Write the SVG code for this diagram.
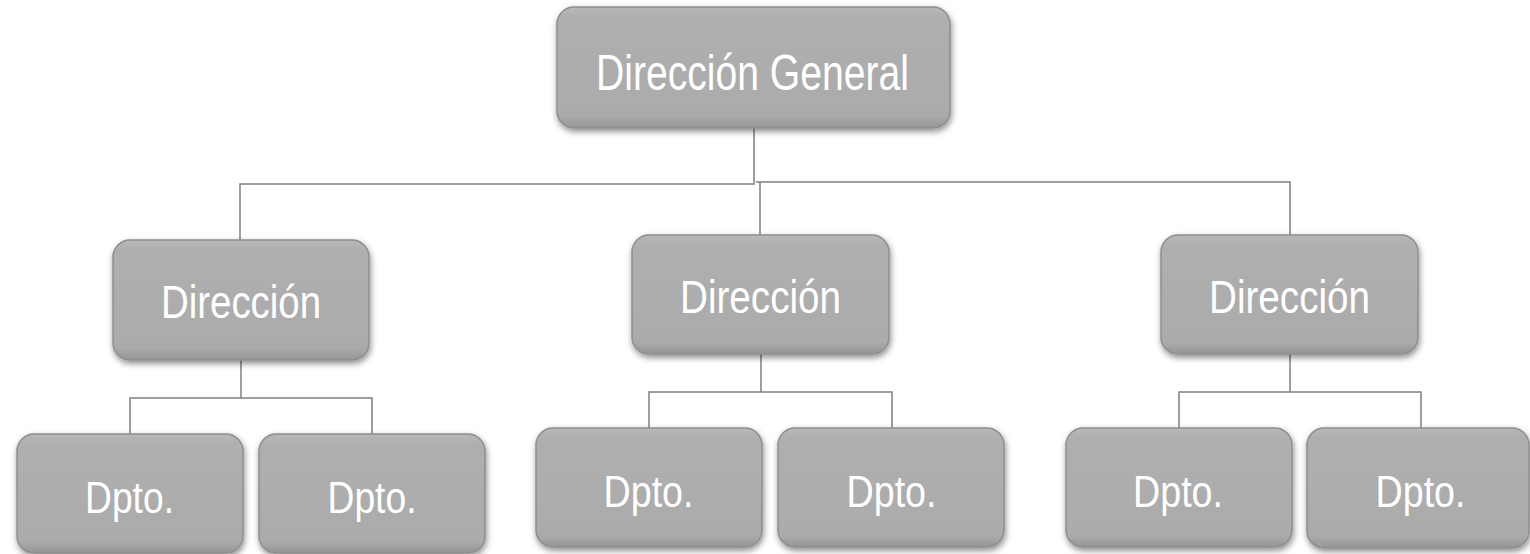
<svg xmlns="http://www.w3.org/2000/svg" width="1530" height="554" viewBox="0 0 1530 554">
<defs>
<linearGradient id="g" x1="0" y1="0" x2="0" y2="1">
<stop offset="0" stop-color="#b9b9b9"/>
<stop offset="0.08" stop-color="#afafaf"/>
<stop offset="0.9" stop-color="#ababab"/>
<stop offset="1" stop-color="#959595"/>
</linearGradient>
<filter id="sh" x="-10%" y="-10%" width="125%" height="130%">
<feDropShadow dx="1" dy="3" stdDeviation="3" flood-color="#000" flood-opacity="0.45"/>
</filter>
</defs>
<style>
.box{fill:url(#g);stroke:#8e8e8e;stroke-width:1.5;filter:url(#sh)}
.lbl{font-family:"Liberation Sans Narrow","Liberation Sans",Arial,sans-serif;fill:#ffffff;text-anchor:middle}
.big{font-size:50px}
.mid{font-size:46px}
.sm{font-size:45px}
.con{fill:none;stroke:#808080;stroke-width:1.5}
</style>
<rect width="1530" height="554" fill="#ffffff"/>
<g id="connectors">
<path class="con" d="M754,128 V184 H240 V240"/>
<path class="con" d="M756,182 H1290 V235 M760,182 V235"/>
<path class="con" d="M241,360 V398 M130,434 V398 H372 V434"/>
<path class="con" d="M761,354 V392 M649,428 V392 H892 V428"/>
<path class="con" d="M1290,354 V392 M1179,428 V392 H1421 V428"/>
</g>
<g id="n-general">
<rect class="box" x="557" y="7" width="393" height="121" rx="17"/>
<text class="lbl big" x="752.5" y="90" textLength="313" lengthAdjust="spacingAndGlyphs">Dirección General</text>
</g>
<g id="n-dir1">
<rect class="box" x="113" y="240" width="256" height="120" rx="17"/>
<text class="lbl mid" x="241" y="318" textLength="160" lengthAdjust="spacingAndGlyphs">Dirección</text>
</g>
<g id="n-dir2">
<rect class="box" x="632" y="235" width="257" height="119" rx="17"/>
<text class="lbl mid" x="760.5" y="313" textLength="161" lengthAdjust="spacingAndGlyphs">Dirección</text>
</g>
<g id="n-dir3">
<rect class="box" x="1161" y="235" width="257" height="119" rx="17"/>
<text class="lbl mid" x="1289.5" y="313" textLength="161" lengthAdjust="spacingAndGlyphs">Dirección</text>
</g>
<g id="n-dpto1">
<rect class="box" x="17" y="434" width="226" height="119" rx="17"/>
<text class="lbl sm" x="129.5" y="513" textLength="89" lengthAdjust="spacingAndGlyphs">Dpto.</text>
</g>
<g id="n-dpto2">
<rect class="box" x="259" y="434" width="226" height="119" rx="17"/>
<text class="lbl sm" x="372" y="513" textLength="89" lengthAdjust="spacingAndGlyphs">Dpto.</text>
</g>
<g id="n-dpto3">
<rect class="box" x="536" y="428" width="226" height="119" rx="17"/>
<text class="lbl sm" x="648.5" y="507" textLength="90" lengthAdjust="spacingAndGlyphs">Dpto.</text>
</g>
<g id="n-dpto4">
<rect class="box" x="778" y="428" width="226" height="119" rx="17"/>
<text class="lbl sm" x="891.5" y="507" textLength="90" lengthAdjust="spacingAndGlyphs">Dpto.</text>
</g>
<g id="n-dpto5">
<rect class="box" x="1066" y="428" width="226" height="119" rx="17"/>
<text class="lbl sm" x="1178" y="507" textLength="90" lengthAdjust="spacingAndGlyphs">Dpto.</text>
</g>
<g id="n-dpto6">
<rect class="box" x="1307" y="428" width="222" height="120" rx="17"/>
<text class="lbl sm" x="1420.5" y="507" textLength="90" lengthAdjust="spacingAndGlyphs">Dpto.</text>
</g>
</svg>
